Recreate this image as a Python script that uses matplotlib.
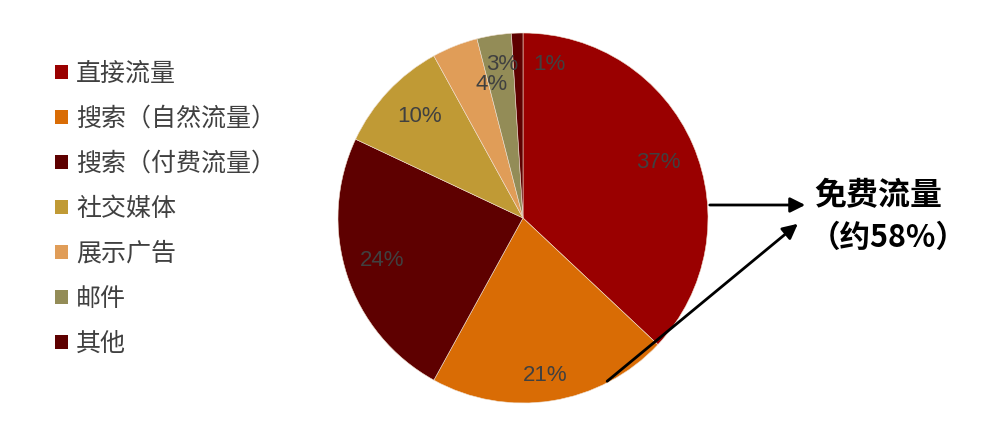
import matplotlib.pyplot as plt
from matplotlib.patches import Patch

# traffic source shares (%)
labels = ['直接流量', '搜索（自然流量）', '搜索（付费流量）', '社交媒体', '展示广告', '邮件', '其他']
values = [37, 21, 24, 10, 4, 3, 1]
colors = ['#9A0000', '#D96C05', '#5E0000', '#C09A35', '#E09D58', '#938C57', '#5E0000']
pct_text = ['37%', '21%', '24%', '10%', '4%', '3%', '1%']

plt.rcParams['font.family'] = ['Noto Sans CJK SC', 'DejaVu Sans']

fig = plt.figure(figsize=(9.94, 4.28), dpi=100)
ax = fig.add_axes([0, 0, 1, 1])

# work in pixel units: pie centre (523, 218 from top), radius 185
cx, cy, r = 523, 428 - 218, 185
wedges, texts = ax.pie(values, colors=colors, startangle=90, counterclock=False,
                       center=(cx, cy), radius=r,
                       wedgeprops=dict(edgecolor='#f0e0d0', linewidth=0.4))
ax.set_xlim(0, 994)
ax.set_ylim(0, 428)
ax.set_aspect('equal')
ax.axis('off')

# percentage labels (small slices nudged like the original)
label_pos = [(0.73, 0.30), (0.12, -0.85), (-0.76, -0.23), (-0.56, 0.55),
             (-0.17, 0.72), (-0.11, 0.83), (0.14, 0.83)]
for (px, py), t in zip(label_pos, pct_text):
    ax.text(cx + px * r, cy + py * r, t, ha='center', va='center',
            fontsize=16, color='#404040', family='Liberation Sans')

# arrows pointing at the free traffic note
arrow = dict(arrowstyle='-|>,head_length=0.9,head_width=0.45', color='black', lw=2)
ax.annotate('', xy=(808, 428 - 205), xytext=(707, 428 - 205), arrowprops=arrow)
ax.annotate('', xy=(800, 428 - 222), xytext=(605, 428 - 383), arrowprops=arrow)

ax.text(878, 428 - 196, '免费流量', ha='center', va='center',
        fontsize=23, fontweight='bold', color='black')
ax.text(888, 428 - 238, '（约58%）', ha='center', va='center',
        fontsize=22, fontweight='bold', color='black')

handles = [Patch(facecolor=c, edgecolor='none') for c in colors]
leg = ax.legend(handles, labels, loc='upper left',
                bbox_to_anchor=(45 / 994, 1 - 51 / 428),
                frameon=False, fontsize=18, handlelength=0.5, handleheight=0.5,
                handletextpad=0.35, labelspacing=0.76, borderaxespad=0)
for t in leg.get_texts():
    t.set_color('#404040')

fig.savefig('out.png', dpi=100)
